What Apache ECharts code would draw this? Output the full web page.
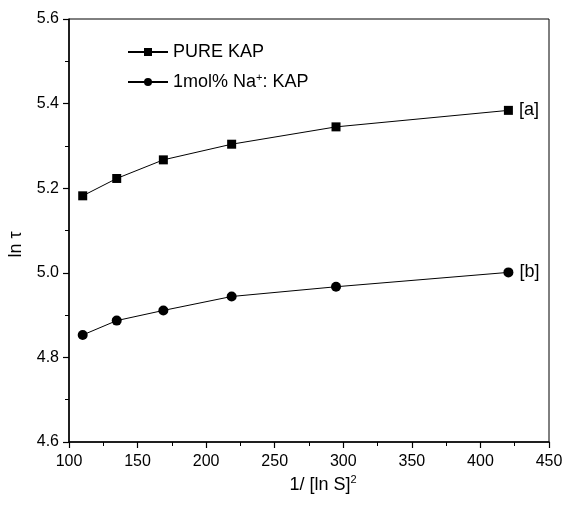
<!DOCTYPE html>
<html>
<head>
<meta charset="utf-8">
<script src="https://cdn.jsdelivr.net/npm/echarts@6/dist/echarts.min.js"></script>
<style>html,body{margin:0;padding:0;background:#fff}#c{width:562px;height:507px}</style>
</head>
<body>
<div id="c"></div>
<script>
var xValues = [110, 134.8, 168.8, 218.6, 294.7, 420.4];
var pureKAP = [5.182, 5.223, 5.267, 5.304, 5.345, 5.384];
var naKAP = [4.853, 4.887, 4.911, 4.944, 4.967, 5.001];
var seriesNames = ['PURE KAP', '1mol% Na{sup|+}: KAP'];
var endLabels = ['[a]', '[b]'];

var font = 'Liberation Sans, Arial, sans-serif';
var supStyle = { fontSize: 11, verticalAlign: 'top', padding: [0, 0, 10, 0], fontFamily: font, color: '#000' };

function pairs(xs, ys, lab) {
  return xs.map(function (x, i) {
    var d = { value: [x, ys[i]] };
    if (i === xs.length - 1) {
      d.label = { show: true, formatter: lab, position: 'right', distance: 6, color: '#000', fontSize: 18, fontFamily: font };
    }
    return d;
  });
}

var chart = echarts.init(document.getElementById('c'));
chart.setOption({
  animation: false,
  backgroundColor: '#fff',
  grid: { left: 69, right: 13, top: 19, bottom: 65, show: true, borderColor: '#000', borderWidth: 1, outerBoundsMode: 'none', containLabel: false },
  legend: {
    left: 127, top: 42, padding: 0, orient: 'vertical', itemGap: 10, itemWidth: 40, itemHeight: 10,
    textStyle: { color: '#000', fontSize: 18, lineHeight: 20, fontFamily: font, rich: { sup: supStyle } },
    data: seriesNames
  },
  xAxis: {
    type: 'value', min: 100, max: 450, interval: 50,
    name: '1/ [ln S]{sup|2}', nameLocation: 'middle', nameGap: 31,
    nameTextStyle: { color: '#000', fontSize: 18, fontFamily: font, padding: [0, 0, 0, 28], rich: { sup: supStyle } },
    axisLine: { show: true, lineStyle: { color: '#000', width: 1.5 } },
    axisTick: { show: true, length: 6, lineStyle: { color: '#000', width: 1.2 } },
    minorTick: { show: true, splitNumber: 2, length: 4, lineStyle: { color: '#000', width: 1 } },
    axisLabel: { color: '#000', fontSize: 16, fontFamily: font, margin: 12 },
    splitLine: { show: false }
  },
  yAxis: {
    type: 'value', min: 4.6, max: 5.6, interval: 0.2,
    name: 'ln \u03c4', nameLocation: 'middle', nameGap: 44, nameRotate: 90,
    nameTextStyle: { color: '#000', fontSize: 18, fontFamily: font, padding: [0, 28, 0, 0] },
    axisLine: { show: true, lineStyle: { color: '#000', width: 1.5 } },
    axisTick: { show: true, length: 6, lineStyle: { color: '#000', width: 1.2 } },
    minorTick: { show: true, splitNumber: 2, length: 4, lineStyle: { color: '#000', width: 1 } },
    axisLabel: { color: '#000', fontSize: 16, fontFamily: font, margin: 10, formatter: function (v) { return v.toFixed(1); } },
    splitLine: { show: false }
  },
  series: [
    { name: seriesNames[0], type: 'line', data: pairs(xValues, pureKAP, endLabels[0]), symbol: 'rect', symbolSize: 9,
      lineStyle: { color: '#000', width: 1 }, itemStyle: { color: '#000' } },
    { name: seriesNames[1], type: 'line', data: pairs(xValues, naKAP, endLabels[1]), symbol: 'circle', symbolSize: 10,
      lineStyle: { color: '#000', width: 1 }, itemStyle: { color: '#000' } }
  ]
});
</script>
</body>
</html>
